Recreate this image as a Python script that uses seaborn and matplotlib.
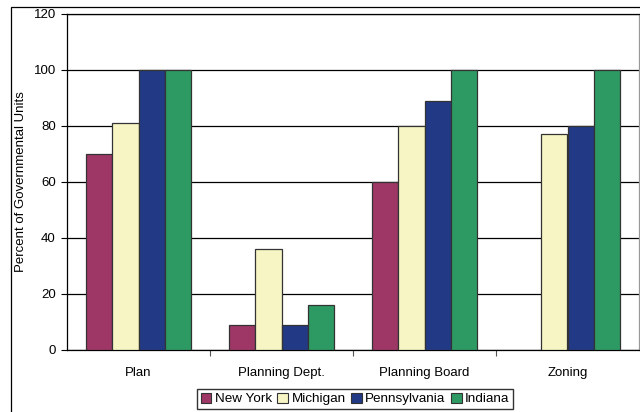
import numpy as np
import pandas as pd
import matplotlib
matplotlib.use("Agg")
import matplotlib.pyplot as plt
import seaborn as sns
from matplotlib.patches import Rectangle

# ── Data ──────────────────────────────────────────────────────────────────────
categories = ["Plan", "Planning Dept.", "Planning Board", "Zoning"]
states = ["New York", "Michigan", "Pennsylvania", "Indiana"]
new_york = [70, 9, 60, np.nan]
michigan = [81, 36, 80, 77]
pennsylvania = [100, 9, 89, 80]
indiana = [100, 16, 100, 100]

colors = ["#9E3766", "#F7F5C4", "#223A85", "#2E9A63"]

df = pd.DataFrame({
    "category": categories * 4,
    "state": np.repeat(states, 4),
    "value": new_york + michigan + pennsylvania + indiana,
})

# ── Plot ──────────────────────────────────────────────────────────────────────
sns.set_style("white", {"text.color": "black", "axes.labelcolor": "black",
                        "xtick.color": "black", "ytick.color": "black"})
plt.rcParams["font.family"] = ["Liberation Sans", "DejaVu Sans"]

fig = plt.figure(figsize=(6.4, 4.12), dpi=100)
ax = fig.add_axes([67 / 640, 1 - 350 / 412, 572 / 640, 336 / 412])

sns.barplot(data=df, x="category", y="value", hue="state",
            order=categories, hue_order=states, palette=colors,
            width=0.73, edgecolor="#333333", linewidth=0.9,
            saturation=1, ax=ax, zorder=3)

ax.set_ylim(0, 120)
ax.set_xlim(-0.5, 3.5)
ax.set_yticks(range(0, 121, 20))
ax.yaxis.grid(True, color="black", linewidth=0.9, zorder=0)
ax.set_axisbelow(True)
ax.set_xlabel("")
ax.set_ylabel("Percent of Governmental Units", fontsize=9.5, labelpad=5)
ax.tick_params(axis="y", which="major", length=4, width=0.8, labelsize=9.5,
               color="black", left=True, pad=4)
ax.tick_params(axis="x", which="major", length=0, labelsize=9.5, pad=12)
ax.set_xticks([0.5, 1.5, 2.5], minor=True)
ax.tick_params(axis="x", which="minor", length=4, width=0.8, color="#555555",
               bottom=True)

for side in ["left", "bottom", "top"]:
    ax.spines[side].set_color("black")
    ax.spines[side].set_linewidth(0.9)
ax.spines["right"].set_color("#999999")
ax.spines["right"].set_linewidth(0.9)

# outer chart frame
fig.patches.append(Rectangle((11 / 640, -0.05), 1.2, 1 - 7 / 412 + 0.05,
                             transform=fig.transFigure, fill=False,
                             edgecolor="black", linewidth=0.9, zorder=0))

ax.legend_.remove()
handles = [Rectangle((0, 0), 1, 1, facecolor=c, edgecolor="#333333", linewidth=0.8)
           for c in colors]
fig.legend(handles, states, loc="center", bbox_to_anchor=(355 / 640, 1 - 399 / 412),
           ncol=4, fontsize=9.7, frameon=True, fancybox=False, edgecolor="black",
           handlelength=0.8, handleheight=0.8, handletextpad=0.25,
           columnspacing=0.4, borderpad=0.25, borderaxespad=0)

fig.savefig("out.png", dpi=100)
